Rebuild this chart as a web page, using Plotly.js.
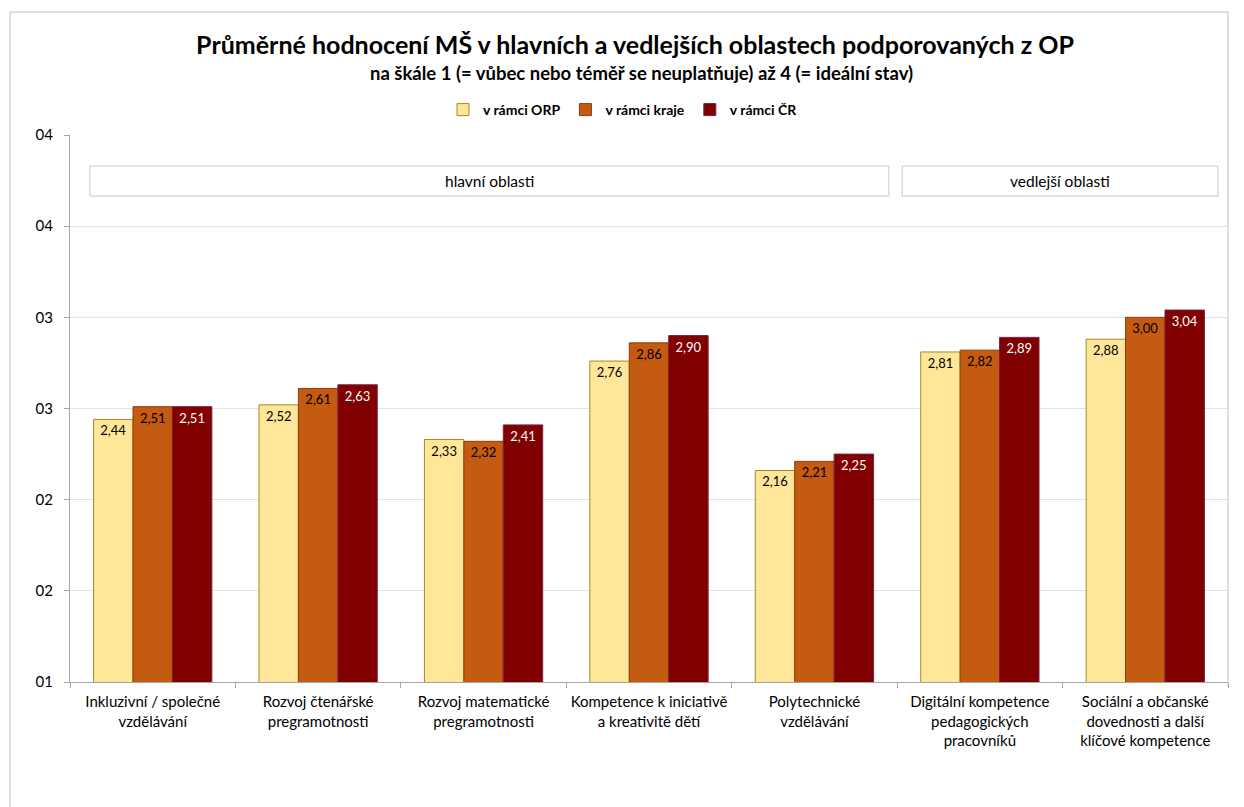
<!DOCTYPE html>
<html>
<head>
<meta charset="utf-8">
<script src="https://cdn.plot.ly/plotly-3.0.1.min.js"></script>
<style>html,body{margin:0;padding:0;background:#fff;}#chart{width:1244px;height:807px;}</style>
</head>
<body>
<div id="chart"></div>
<script>
const categories = [
  "Inkluzivní / společné<br>vzdělávání",
  "Rozvoj čtenářské<br>pregramotnosti",
  "Rozvoj matematické<br>pregramotnosti",
  "Kompetence k iniciativě<br>a kreativitě dětí",
  "Polytechnické<br>vzdělávání",
  "Digitální kompetence<br>pedagogických<br>pracovníků",
  "Sociální a občanské<br>dovednosti a další<br>klíčové kompetence"
];
const seriesNames = ["v rámci ORP", "v rámci kraje", "v rámci ČR"];
const valuesORP   = [2.44, 2.52, 2.33, 2.76, 2.16, 2.81, 2.88];
const valuesKraje = [2.51, 2.61, 2.32, 2.86, 2.21, 2.82, 3.00];
const valuesCR    = [2.51, 2.63, 2.41, 2.90, 2.25, 2.89, 3.04];
const yTickVals = [1, 1.5, 2, 2.5, 3, 3.5, 4];
const yTickText = ["01", "02", "02", "03", "03", "04", "04"];
const groupLabels = ["hlavní oblasti", "vedlejší oblasti"];

const FONT = "Lato, 'Open Sans', sans-serif";
const fills = ["#FFE699", "#C55A11", "#800000"];
const lines = ["#A68A1E", "#8A3E0C", "#7A1F45"];
const textCols = ["#000000", "#000000", "#FFFFFF"];
const allVals = [valuesORP, valuesKraje, valuesCR];

const traces = allVals.map((vals, i) => ({
  type: "bar",
  name: seriesNames[i],
  x: categories,
  y: vals,
  marker: {color: fills[i], line: {color: lines[i], width: 1}},
  texttemplate: "%{y:.2f}",
  textposition: "inside",
  insidetextanchor: "end",
  textangle: 0,
  textfont: {family: FONT, size: 13, color: textCols[i]},
  hoverinfo: "x+y"
}));

// paper coordinate helpers (plot area: x 70..1228, y 135..682)
const px = v => (v - 70) / 1158;
const py = v => (682 - v) / 547;
const borderCol = "#BFBFBF";

const layout = {
  width: 1244, height: 807,
  margin: {l: 70, r: 16, t: 135, b: 125},
  paper_bgcolor: "#ffffff", plot_bgcolor: "#ffffff",
  separators: ",.",
  font: {family: FONT, size: 15, color: "#000"},
  title: {
    text: "<b>Průměrné hodnocení MŠ v hlavních a vedlejších oblastech podporovaných z OP</b>",
    font: {family: FONT, size: 25, color: "#000"},
    x: px(635), xanchor: "center", xref: "paper", y: 1 - 45/807, yanchor: "middle", yref: "container"
  },
  barmode: "group",
  bargap: 0.285,
  bargroupgap: 0,
  showlegend: true,
  legend: {
    orientation: "h", x: px(623), xanchor: "center", y: py(110), yanchor: "middle",
    font: {family: FONT, size: 14, color: "#000", weight: "bold"},
    itemwidth: 30, traceorder: "normal", itemclick: false
  },
  xaxis: {
    type: "category",
    tickangle: 0,
    showline: true, linecolor: "#A6A6A6", linewidth: 1,
    ticks: "outside", tickson: "boundaries", ticklen: 5, tickcolor: "#A6A6A6",
    ticklabelstandoff: 6,
    tickfont: {family: FONT, size: 15, color: "#000"},
    showgrid: false, fixedrange: true
  },
  yaxis: {
    range: [1, 4],
    tickvals: yTickVals, ticktext: yTickText,
    tickfont: {family: FONT, size: 15, color: "#000"},
    showline: true, linecolor: "#A6A6A6", linewidth: 1,
    ticks: "outside", ticklen: 5, tickcolor: "#A6A6A6",
    ticklabelstandoff: 8,
    showgrid: true, gridcolor: "#E3E3E3", gridwidth: 1,
    zeroline: false, fixedrange: true
  },
  shapes: [
    {type: "line", xref: "paper", yref: "paper", x0: px(10), x1: px(10), y0: py(12), y1: py(830), line: {color: borderCol, width: 1}},
    {type: "line", xref: "paper", yref: "paper", x0: px(10), x1: px(1228), y0: py(12), y1: py(12), line: {color: borderCol, width: 1}},
    {type: "line", xref: "paper", yref: "paper", x0: px(1228), x1: px(1228), y0: py(12), y1: py(687), line: {color: borderCol, width: 1}},
    {type: "rect", xref: "x", yref: "y", x0: -0.38, x1: 4.45, y0: 3.665, y1: 3.83, line: {color: "#C8C8C8", width: 1}, fillcolor: "#ffffff", layer: "above"},
    {type: "rect", xref: "x", yref: "y", x0: 4.53, x1: 6.44, y0: 3.665, y1: 3.83, line: {color: "#C8C8C8", width: 1}, fillcolor: "#ffffff", layer: "above"}
  ],
  annotations: [
    {text: "<b>na škále 1 (= vůbec nebo téměř se neuplatňuje) až 4 (= ideální stav)</b>",
     xref: "paper", yref: "paper", x: px(641), y: py(73), xanchor: "center", yanchor: "middle",
     showarrow: false, font: {family: FONT, size: 18.5, color: "#000"}},
    {text: groupLabels[0], xref: "x", yref: "y", x: (-0.38 + 4.45) / 2, y: 3.7475,
     xanchor: "center", yanchor: "middle", showarrow: false, font: {family: FONT, size: 15.5, color: "#000"}},
    {text: groupLabels[1], xref: "x", yref: "y", x: (4.53 + 6.44) / 2, y: 3.7475,
     xanchor: "center", yanchor: "middle", showarrow: false, font: {family: FONT, size: 15.5, color: "#000"}}
  ]
};

Plotly.newPlot("chart", traces, layout, {displayModeBar: false});
</script>
</body>
</html>
